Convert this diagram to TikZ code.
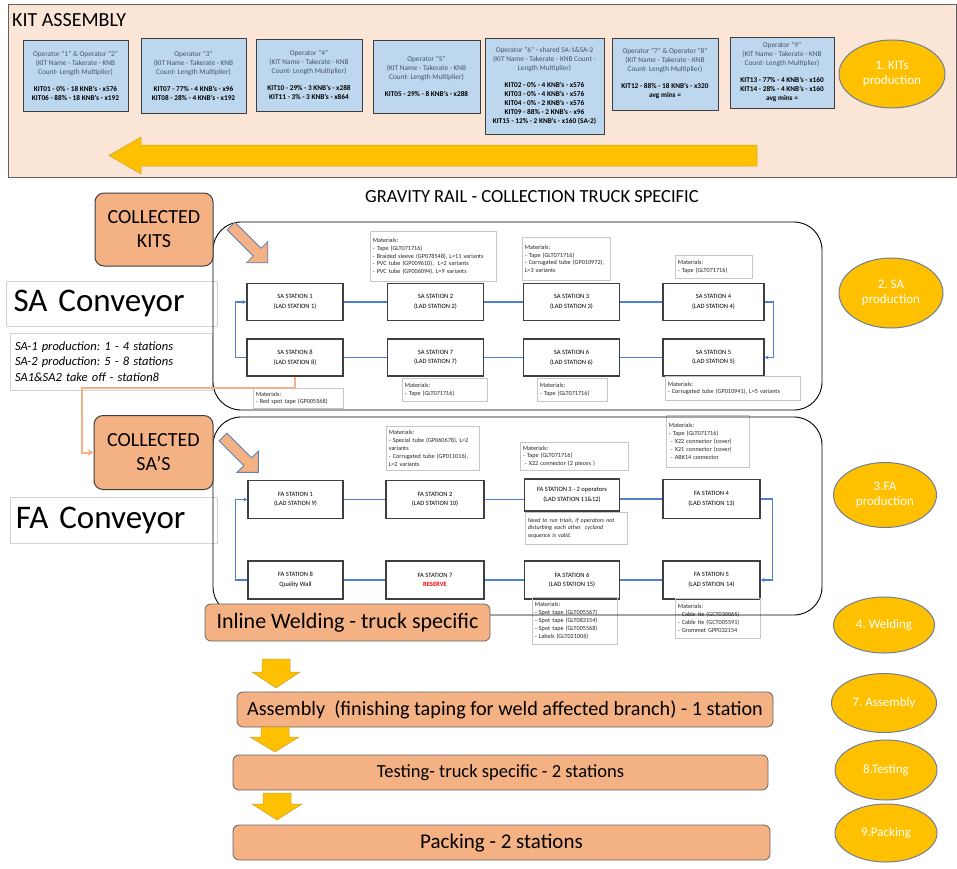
\documentclass[tikz,border=0pt]{standalone}
\usepackage{fontspec}
\setmainfont{Carlito}
\frenchspacing
\usetikzlibrary{shapes.geometric,arrows.meta}
\definecolor{peach}{HTML}{FBE5D6}
\definecolor{opblue}{HTML}{BDD7EE}
\definecolor{salmon}{HTML}{F4B183}
\definecolor{gold}{HTML}{FFC000}
\definecolor{golddark}{HTML}{C9A23A}
\definecolor{flowblue}{HTML}{4F81D0}
\definecolor{slate}{HTML}{44546A}
\definecolor{edge}{HTML}{3F3F3F}
\definecolor{ringedge}{HTML}{6E7F99}
\begin{document}
\begin{tikzpicture}[x=1pt,y=-1pt,
  opbox/.style={draw=edge, line width=1pt, fill=opblue, align=center, text=slate,
    font=\fontsize{7.3}{9}\selectfont, inner sep=1pt},
  phase/.style={ellipse, draw=ringedge, line width=1pt, fill=gold, text=white, align=center,
    font=\fontsize{13}{15.5}\selectfont, inner sep=0pt},
  collect/.style={draw=edge, line width=1pt, fill=salmon, rounded corners=9, align=center,
    font=\fontsize{20}{24}\selectfont},
  stage/.style={draw=edge!80, line width=0.8pt, fill=salmon, rounded corners=6, align=center,
    font=\fontsize{18.5}{22}\selectfont},
  station/.style={draw=edge, line width=1.2pt, fill=white, align=center,
    font=\fontsize{6.5}{9.5}\selectfont, minimum width=96, minimum height=37, inner sep=1pt},
  mat/.style={draw=gray!45, line width=0.6pt, align=left, anchor=north west, text=black!85,
    font=\fontsize{6.2}{7.8}\selectfont, inner xsep=2.5, inner ysep=2},
  labelbox/.style={draw=gray!35, line width=0.8pt, align=left},
  flow/.style={flowblue, line width=1.1pt},
  blockarrow/.style={fill=gold, draw=golddark, line width=0.5pt},
  diagarrow/.style={fill=salmon, draw=flowblue!70!gray, line width=0.8pt}
]
\useasboundingbox (0,0) rectangle (957,868);
\fill[white] (0,0) rectangle (957,868);

% ---------------- kit assembly band ----------------
\draw[fill=peach, draw=gray!75!black, line width=1pt] (8,4) rectangle (956,177);
\node[anchor=west, font=\fontsize{20}{24}\selectfont, inner sep=0pt] (kittitle) at (12,20) {KIT ASSEMBLY};

\node[opbox, minimum width=105, minimum height=71] (op1) at (75.5,75.5)
  {Operator "1" \& Operator "2"\\(KIT Name - Takerate - KNB\\Count- Length Multiplier)\\[8pt]
   \color{black}\bfseries KIT01 - 0\% - 18 KNB's - x576\\\color{black}\bfseries KIT06 - 88\% - 18 KNB's - x192};
\node[opbox, minimum width=105, minimum height=75] (op3) at (193.5,75.5)
  {Operator "3"\\(KIT Name - Takerate - KNB\\Count- Length Multiplier)\\[8pt]
   \color{black}\bfseries KIT07 - 77\% - 4 KNB's - x96\\\color{black}\bfseries KIT08 - 28\% - 4 KNB's - x192};
\node[opbox, minimum width=106, minimum height=72] (op4) at (309,75)
  {Operator "4"\\(KIT Name - Takerate - KNB\\Count- Length Multiplier)\\[8pt]
   \color{black}\bfseries KIT10 - 29\% - 3 KNB's - x288\\\color{black}\bfseries KIT11 - 3\% - 3 KNB's - x864};
\node[opbox, minimum width=107, minimum height=73] (op5) at (426.5,76.5)
  {Operator "5"\\(KIT Name - Takerate - KNB\\Count- Length Multiplier)\\[8pt]
   \color{black}\bfseries KIT05 - 29\% - 8 KNB's - x288};
\node[opbox, minimum width=119, minimum height=96] (op6) at (544.5,86)
  {Operator "6" - shared SA-1\&SA-2\\(KIT Name - Takerate - KNB Count -\\Length Multiplier)\\[8pt]
   \color{black}\bfseries KIT02 - 0\% - 4 KNB's - x576\\\color{black}\bfseries KIT03 - 0\% - 4 KNB's - x576\\
   \color{black}\bfseries KIT04 - 0\% - 2 KNB's - x576\\\color{black}\bfseries KIT09 - 88\% - 2 KNB's - x96\\
   \color{black}\bfseries KIT15 - 12\% - 2 KNB's - x160 (SA-2)};
\node[opbox, minimum width=106, minimum height=72] (op78) at (665,74)
  {Operator "7" \& Operator "8"\\(KIT Name - Takerate - KNB\\Count- Length Multiplier)\\[8pt]
   \color{black}\bfseries KIT12 - 88\% - 18 KNB's - x320\\\color{black}\bfseries avg mins =};
\node[opbox, minimum width=104, minimum height=71] (op9) at (782,72.5)
  {Operator "9"\\(KIT Name - Takerate - KNB\\Count- Length Multiplier)\\[8pt]
   \color{black}\bfseries KIT13 - 77\% - 4 KNB's - x160\\\color{black}\bfseries KIT14 - 28\% - 4 KNB's - x160\\
   \color{black}\bfseries avg mins =};

% big return arrow of the kit band
\draw[blockarrow] (757,145) -- (141,145) -- (141,137) -- (109,155.5) -- (141,174) -- (141,166) -- (757,166) -- cycle;

% ---------------- phase ellipses ----------------
\node[phase, minimum width=106, minimum height=68] (ph1) at (892,74) {1. KITs\\production};
\node[phase, minimum width=104, minimum height=70] (ph2) at (891,293) {2. SA\\production};
\node[phase, minimum width=103, minimum height=65] (ph3) at (885,495) {3.FA\\production};
\node[phase, minimum width=101, minimum height=56] (ph4) at (884,625) {4. Welding};
\node[phase, minimum width=105, minimum height=59] (ph7) at (884,703) {7. Assembly};
\node[phase, minimum width=102, minimum height=60] (ph8) at (886,770) {8.Testing};
\node[phase, minimum width=102, minimum height=58] (ph9) at (886,833) {9.Packing};

% ---------------- titles and side labels ----------------
\node[font=\fontsize{18.5}{22}\selectfont, inner sep=0pt] (railtitle) at (532,197)
  {GRAVITY RAIL - COLLECTION TRUCK SPECIFIC};

\node[labelbox, minimum height=45, text width=196, inner xsep=7.5, font=\fontsize{33}{36}\selectfont] (saconv) at (111.5,303.5) {SA Conveyor};
\node[labelbox, minimum height=57, text width=192, inner xsep=5, font=\fontsize{12.5}{15.5}\selectfont\itshape] (sanote) at (111,361.5)
  {SA-1 production: 1 - 4 stations\\SA-2 production: 5 - 8 stations\\SA1\&SA2 take off - station8};
\node[labelbox, minimum height=46, text width=195, inner xsep=6, font=\fontsize{33}{36}\selectfont] (faconv) at (113.5,520) {FA Conveyor};

% ---------------- SA conveyor ----------------
\node[mat, text width=121, minimum height=50] (mA) at (370,231)
  {Materials:\\- Tape (GLT071716)\\- Braided sleeve (GP078548), L=11 variants\\- PVC tube (GP009610),~ L=2 variants\\- PVC tube (GP006094), L=9 variants};
\node[mat, text width=83, minimum height=43] (mB) at (522,237)
  {Materials:\\- Tape (GLT071716)\\- Corrugated tube (GP010972),\\L=3 variants};
\node[mat, text width=72, minimum height=23] (mC) at (675,255)
  {Materials:\\- Tape (GLT071716)};

\node[station] (sa1) at (295,302) {SA STATION 1\\(LAD STATION 1)};
\node[station] (sa2) at (435.5,302) {SA STATION 2\\(LAD STATION 2)};
\node[station] (sa3) at (571.5,302) {SA STATION 3\\(LAD STATION 3)};
\node[station, minimum width=101] (sa4) at (713.5,302) {SA STATION 4\\(LAD STATION 4)};
\node[station, minimum width=101] (sa5) at (713.5,357.5) {SA STATION 5\\(LAD STATION 5)};
\node[station] (sa6) at (571.5,357.5) {SA STATION 6\\(LAD STATION 6)};
\node[station] (sa7) at (435.5,357.5) {SA STATION 7\\(LAD STATION 7)};
\node[station] (sa8) at (295,357.5) {SA STATION 8\\(LAD STATION 8)};

\draw[flow] (sa1.east) -- (sa2.west);
\draw[flow] (sa2.east) -- (sa3.west);
\draw[flow] (sa3.east) -- (sa4.west);
\draw[flow,-{Stealth[length=4pt,width=4pt]}] (sa4.east) -- ++(9,0) |- (sa5.east);
\draw[flow] (sa5.west) -- (sa6.east);
\draw[flow] (sa6.west) -- (sa7.east);
\draw[flow] (sa7.west) -- (sa8.east);
\draw[flow,-{Stealth[length=4pt,width=4pt]}] (sa8.west) -- ++(-11,0) |- (sa1.west);

\node[mat, text width=85, minimum height=20] (mD) at (253,388)
  {Materials:\\- Red spot tape (GP005568)};
\node[mat, text width=80, minimum height=23] (mE) at (402,378)
  {Materials:\\- Tape (GLT071716)};
\node[mat, text width=65, minimum height=23] (mF) at (537,378)
  {Materials:\\- Tape (GLT071716)};
\node[mat, text width=130, minimum height=24] (mG) at (665,376)
  {Materials:\\- Corrugated tube (GP010941), L=5 variants};

% ---------------- FA conveyor ----------------
\node[mat, text width=88, minimum height=44] (mH) at (386,426)
  {Materials:\\- Special tube (GP060678), L=2\\variants\\- Corrugated tube (GP011016),\\L=2 variants};
\node[mat, text width=103, minimum height=28] (mI) at (520,442)
  {Materials:\\- Tape (GLT071716)\\~- X22 connector (2 pieces )};
\node[mat, text width=78, minimum height=52] (mJ) at (666,415)
  {Materials:\\- Tape (GLT071716)\\~- X22 connector (cover)\\~- X21 connector (cover)\\~- ABK14 connector};

\node[station, minimum width=95, minimum height=38] (fa1) at (295.5,499.5) {FA STATION 1\\(LAD STATION 9)};
\node[station, minimum width=98, minimum height=38] (fa2) at (435,499.5) {FA STATION 2\\(LAD STATION 10)};
\node[station, minimum width=95, minimum height=32] (fa3) at (572,495) {FA STATION 3 - 2 operators\\(LAD STATION 11\&12)};
\node[station, minimum width=97, minimum height=39] (fa4) at (711.5,499) {FA STATION 4\\(LAD STATION 13)};
\node[station, minimum width=97, minimum height=38] (fa5) at (711.5,580) {FA STATION 5\\(LAD STATION 14)};
\node[station, minimum width=95, minimum height=38] (fa6) at (572,580) {FA STATION 6\\(LAD STATION 15)};
\node[station, minimum width=98, minimum height=38] (fa7) at (435,580) {FA STATION 7\\\textcolor{red}{\bfseries RESERVE}};
\node[station, minimum width=95, minimum height=38] (fa8) at (295.5,580) {FA STATION 8\\Quality Wall};

\node[mat, text width=97, minimum height=32, font=\fontsize{6}{7.8}\selectfont\itshape] (note3) at (525,512)
  {Need to run trials, if operators not\\disturbing each other~ cycland\\sequence is valid.};

\draw[flow] (fa1.east) -- (fa2.west);
\draw[flow] (fa2.east) -- (fa2.east -| fa3.west);
\draw[flow] (fa3.east |- fa4.west) -- (fa4.west);
\draw[flow,-{Stealth[length=4pt,width=4pt]}] (fa4.east) -- ++(12,0) |- (fa5.east);
\draw[flow] (fa5.west) -- (fa6.east);
\draw[flow] (fa6.west) -- (fa7.east);
\draw[flow] (fa7.west) -- (fa8.east);
\draw[flow,-{Stealth[length=4pt,width=4pt]}] (fa8.west) -- ++(-12,0) |- (fa1.west);

\node[mat, text width=80, minimum height=47] (mK) at (532,597)
  {Materials:\\- Spot tape (GLT005567)\\- Spot tape (GLT083154)\\- Spot tape (GLT005568)\\- Labels (GLT021006)};
\node[mat, text width=80, minimum height=40] (mL) at (675,598)
  {Materials:\\- Cable tie (GCT030065)\\- Cable tie (GCT005591)\\- Grommet GPP032154};

% conveyor outlines
\draw[line width=0.9pt, rounded corners=28] (213,222) rectangle (822,410);
\draw[line width=0.9pt, rounded corners=28] (213,417) rectangle (822,615);

% ---------------- collection points ----------------
\node[collect, minimum width=118, minimum height=73] (collkits) at (154,229.5) {COLLECTED\\KITS};
\node[collect, minimum width=119, minimum height=74] (collsa) at (153.5,452.5) {COLLECTED\\SA'S};

% diagonal feed arrows into the conveyors
\begin{scope}[shift={(231,226)}, rotate=-45]
  \draw[diagarrow] (0,-5.5) -- (37,-5.5) -- (37,-15) -- (52,0) -- (37,15) -- (37,5.5) -- (0,5.5) -- cycle;
\end{scope}
\begin{scope}[shift={(223,437)}, rotate=-45]
  \draw[diagarrow] (0,-5.5) -- (35,-5.5) -- (35,-15) -- (50,0) -- (35,15) -- (35,5.5) -- (0,5.5) -- cycle;
\end{scope}

% SA take-off line to the SA collection point
\coordinate (take1) at (295,388);
\coordinate (take2) at (82,388);
\draw[salmon, line width=2pt, -{Stealth[length=6pt,width=7pt]}] (sa8.south) -- (take1) -- (take2) |- (collsa.west);

% ---------------- downstream stages ----------------
\node[stage, minimum width=285, minimum height=37, font=\fontsize{22}{25}\selectfont] (weld) at (347.5,622.5) {Inline Welding - truck specific};
\node[stage, minimum width=536, minimum height=35, font=\fontsize{20.2}{23}\selectfont] (assy) at (505,709.5) {Assembly~ (finishing taping for weld affected branch) - 1 station};
\node[stage, minimum width=535, minimum height=35] (test) at (500.5,772.5) {Testing- truck specific - 2 stations};
\node[stage, minimum width=537, minimum height=35, font=\fontsize{21}{24}\selectfont] (pack) at (501.5,842.5) {Packing - 2 stations};

% yellow down arrows between the stages
\draw[blockarrow] (262,659) -- (290,659) -- (290,672) -- (300,672) -- (276,688) -- (252,672) -- (262,672) -- cycle;
\draw[blockarrow] (261,727) -- (289,727) -- (289,737) -- (299,737) -- (275,752) -- (250,737) -- (261,737) -- cycle;
\draw[blockarrow] (263,793) -- (291,793) -- (291,804) -- (302,804) -- (277,820) -- (252,804) -- (263,804) -- cycle;
\end{tikzpicture}
\end{document}
